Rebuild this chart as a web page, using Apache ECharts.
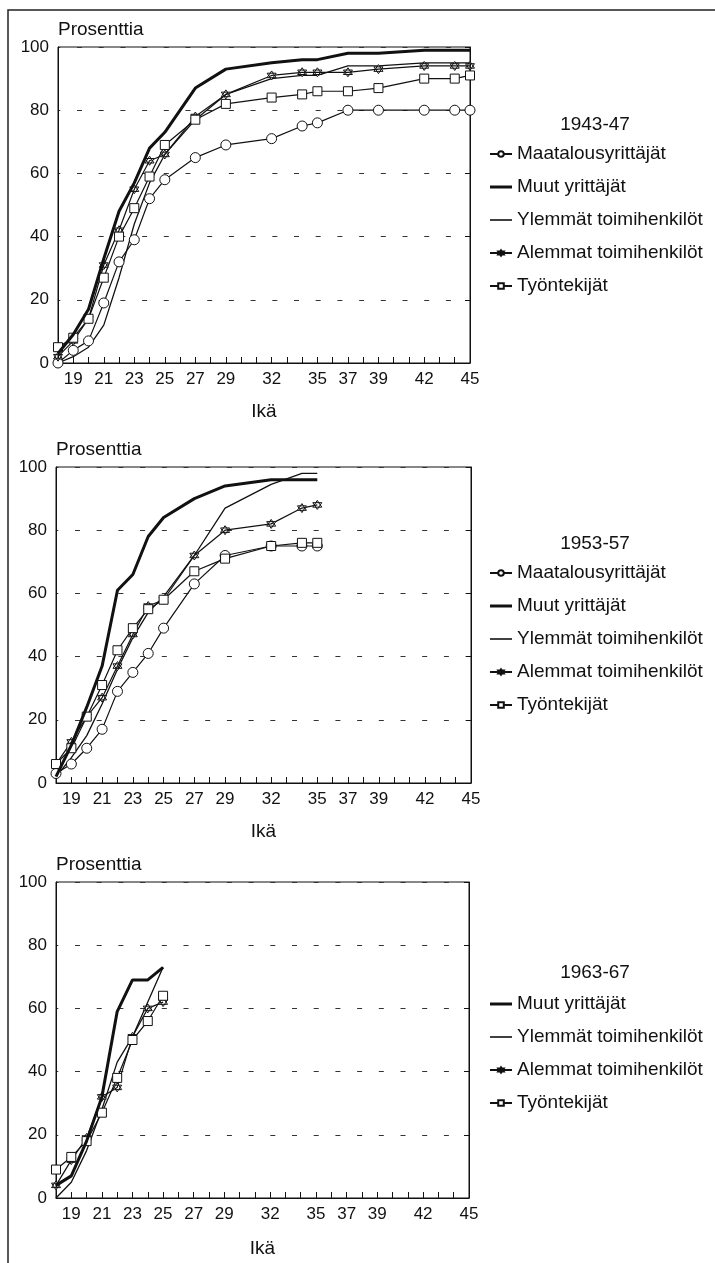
<!DOCTYPE html>
<html>
<head>
<meta charset="utf-8">
<script src="https://cdn.jsdelivr.net/npm/echarts@6/dist/echarts.min.js"></script>
<style>
  html, body { margin: 0; padding: 0; background: #fff; }
  #main { width: 715px; height: 1263px; }
</style>
</head>
<body>
<div id="main"></div>
<script>
// ages (x) per panel
var ages1 = [18, 19, 20, 21, 22, 23, 24, 25, 27, 29, 32, 34, 35, 37, 39, 42, 44, 45];
var ages2 = [18, 19, 20, 21, 22, 23, 24, 25, 27, 29, 32, 34, 35];
var ages3 = [18, 19, 20, 21, 22, 23, 24, 25];

var xLabels = [19, 21, 23, 25, 27, 29, 32, 35, 37, 39, 42, 45];
var cohorts = ['1943-47', '1953-57', '1963-67'];
var groups = ['Maatalousyrittäjät', 'Muut yrittäjät', 'Ylemmät toimihenkilöt', 'Alemmat toimihenkilöt', 'Työntekijät'];

// 1943-47
var maatalous1 = [0, 4, 7, 19, 32, 39, 52, 58, 65, 69, 71, 75, 76, 80, 80, 80, 80, 80];
var muut1      = [3, 9, 17, 33, 48, 57, 68, 73, 87, 93, 95, 96, 96, 98, 98, 99, 99, 99];
var ylemmat1   = [0, 2, 5, 12, 27, 44, 57, 66, 77, 85, 90, 91, 91, 94, 94, 95, 95, 95];
var alemmat1   = [2, 7, 14, 31, 42, 55, 64, 66, 78, 85, 91, 92, 92, 92, 93, 94, 94, 94];
var tyont1     = [5, 8, 14, 27, 40, 49, 59, 69, 77, 82, 84, 85, 86, 86, 87, 90, 90, 91];

// 1953-57
var maatalous2 = [3, 6, 11, 17, 29, 35, 41, 49, 63, 72, 75, 75, 75];
var muut2      = [2, 12, 24, 37, 61, 66, 78, 84, 90, 94, 96, 96, 96];
var ylemmat2   = [2, 8, 15, 25, 36, 46, 54, 59, 72, 87, 94.5, 98, 98];
var alemmat2   = [6, 13, 21, 27, 37, 47, 56, 58, 72, 80, 82, 87, 88];
var tyont2     = [6, 11, 21, 31, 42, 49, 55, 58, 67, 71, 75, 76, 76];

// 1963-67
var muut3    = [4, 7, 18, 32, 59, 69, 69, 73];
var ylemmat3 = [0, 5, 15, 28, 43, 51, 62, 73];
var alemmat3 = [4, 12, 19, 32, 35, 51, 60, 62];
var tyont3   = [9, 13, 18, 27, 38, 50, 56, 64];

var TXT = 'Liberation Sans';
var INK = '#111';

var starPath = 'path://M0,-10L8.66,5L-8.66,5Z M0,10L8.66,-5L-8.66,-5Z';

var styles = {
    'Maatalousyrittäjät':    { symbol: 'circle', size: 10, width: 1.2 },
    'Muut yrittäjät':        { symbol: 'none', size: 0, width: 3 },
    'Ylemmät toimihenkilöt': { symbol: 'none', size: 0, width: 1.3 },
    'Alemmat toimihenkilöt': { symbol: starPath, size: 9, width: 1.2 },
    'Työntekijät':           { symbol: 'rect', size: 9, width: 1.2 }
};

function pairs(xs, ys) {
    return xs.map(function (x, i) { return [x, ys[i]]; });
}

function mkSeries(name, idx, xs, ys) {
    var s = styles[name];
    return {
        name: name,
        type: 'line',
        xAxisIndex: idx,
        yAxisIndex: idx * 2,
        data: pairs(xs, ys),
        symbol: s.symbol,
        symbolSize: s.size,
        showSymbol: s.symbol !== 'none',
        lineStyle: { color: INK, width: s.width },
        itemStyle: { color: '#fff', borderColor: INK, borderWidth: 1 },
        emphasis: { disabled: true },
        animation: false,
        z: name === 'Muut yrittäjät' ? 3 : 2
    };
}

// legend entries: plain lines get a bar icon, marker series keep their symbol
function legendItem(name) {
    if (name === 'Muut yrittäjät') {
        return { name: name, icon: 'path://M0,0H22V3H0Z', itemStyle: { color: INK, borderWidth: 0 } };
    }
    if (name === 'Ylemmät toimihenkilöt') {
        return { name: name, icon: 'path://M0,0H22V1.6H0Z', itemStyle: { color: INK, borderWidth: 0 } };
    }
    return { name: name };
}

var grids = [
    { left: 58, top: 47, width: 412, height: 316 },
    { left: 56, top: 467, width: 415, height: 316 },
    { left: 56, top: 882, width: 413, height: 316 }
];
var ikaGap = [49, 49, 51];
var titleTop = [110, 529, 958];
var legendTop = [139, 558, 989];

var xAxes = [], yAxes = [], titles = [], legends = [];
grids.forEach(function (g, i) {
    g.show = true;
    g.borderColor = INK;
    g.borderWidth = 1;
    xAxes.push({
        type: 'value', gridIndex: i, min: 18, max: 45, interval: 1,
        name: 'Ikä', nameLocation: 'middle', nameGap: ikaGap[i],
        nameTextStyle: { fontFamily: TXT, fontSize: 19, color: INK, verticalAlign: 'middle' },
        axisLine: { show: true, onZero: false, lineStyle: { color: INK, width: 1 } },
        axisTick: { show: true, inside: true, length: 6, lineStyle: { color: INK } },
        axisLabel: {
            margin: 8, fontFamily: TXT, fontSize: 17, color: INK,
            formatter: function (v) { return xLabels.indexOf(v) >= 0 ? String(v) : ''; }
        },
        splitLine: { show: false }
    });
    yAxes.push({
        type: 'value', gridIndex: i, min: 0, max: 100, interval: 20,
        name: 'Prosenttia', nameLocation: 'end', nameGap: 17,
        nameTextStyle: { fontFamily: TXT, fontSize: 19, color: INK, align: 'left', verticalAlign: 'middle' },
        axisLine: { show: true, lineStyle: { color: INK, width: 1 } },
        axisTick: { show: false },
        axisLabel: { margin: 9, fontFamily: TXT, fontSize: 17, color: INK },
        splitLine: { show: true, lineStyle: { color: '#333', width: 1, type: [5, 16.7], dashOffset: 2.7 } }
    });
    yAxes.push({
        type: 'value', gridIndex: i, position: 'right', min: 0, max: 100, interval: 20,
        axisLine: { show: true, lineStyle: { color: INK, width: 1 } },
        axisTick: { show: true, inside: true, length: 5, lineStyle: { color: INK } },
        axisLabel: { show: false },
        splitLine: { show: false }
    });
    titles.push({
        text: cohorts[i], left: 590, top: titleTop[i], textAlign: 'center',
        textStyle: { fontFamily: TXT, fontSize: 19, fontWeight: 'normal', color: INK, lineHeight: 20 }
    });
    legends.push({
        orient: 'vertical', left: 484, top: legendTop[i],
        itemWidth: 22, itemHeight: 7, itemGap: 13, itemTextGap: 3,
        selectedMode: false,
        data: (i === 2 ? groups.slice(1) : groups).map(legendItem),
        textStyle: { fontFamily: TXT, fontSize: 19, color: INK, lineHeight: 20 }
    });
});

var series = [
    mkSeries(groups[0], 0, ages1, maatalous1),
    mkSeries(groups[1], 0, ages1, muut1),
    mkSeries(groups[2], 0, ages1, ylemmat1),
    mkSeries(groups[3], 0, ages1, alemmat1),
    mkSeries(groups[4], 0, ages1, tyont1),
    mkSeries(groups[0], 1, ages2, maatalous2),
    mkSeries(groups[1], 1, ages2, muut2),
    mkSeries(groups[2], 1, ages2, ylemmat2),
    mkSeries(groups[3], 1, ages2, alemmat2),
    mkSeries(groups[4], 1, ages2, tyont2),
    mkSeries(groups[1], 2, ages3, muut3),
    mkSeries(groups[2], 2, ages3, ylemmat3),
    mkSeries(groups[3], 2, ages3, alemmat3),
    mkSeries(groups[4], 2, ages3, tyont3)
];

var chart = echarts.init(document.getElementById('main'), null, { renderer: 'canvas' });
chart.setOption({
    backgroundColor: '#fff',
    animation: false,
    title: titles,
    legend: legends,
    grid: grids,
    xAxis: xAxes,
    yAxis: yAxes,
    series: series,
    graphic: [{
        type: 'polyline', silent: true,
        shape: { points: [[8, 1263], [8, 10], [715, 10]] },
        style: { stroke: '#222', lineWidth: 1.5, fill: null }
    }]
});
</script>
</body>
</html>
